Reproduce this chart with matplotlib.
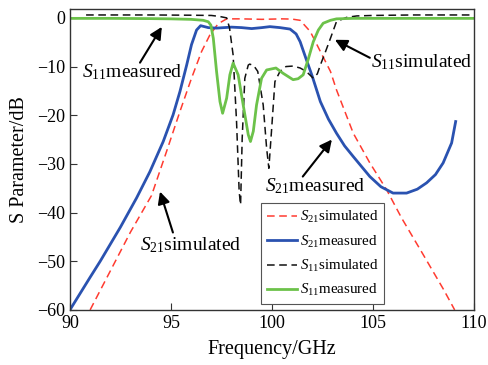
import numpy as np
import matplotlib
matplotlib.use("Agg")
import matplotlib.pyplot as plt

# S-parameter curves (frequency in GHz, level in dB)
s21_sim_f = [91.0, 92.0, 93.0, 94.04, 94.78, 95.45, 96.02, 96.52, 96.93, 97.34, 97.76,
             98.5, 99.5, 100.5, 101.0, 101.4, 101.9, 102.4, 102.9, 103.2, 104.03,
             104.85, 105.68, 106.42, 107.5, 108.5, 109.05]
s21_sim_db = [-60, -52, -44, -36.5, -27.5, -19.2, -12.4, -6.9, -3.5, -1.2, -0.2,
              -0.2, -0.3, -0.2, -0.25, -0.5, -2.8, -6.9, -11, -14.8, -23.7,
              -29.8, -35.3, -41.1, -48.7, -55.8, -60]

s21_meas_f = [90.0, 91.0, 91.5, 92.5, 93.3, 93.96, 94.62, 95.11, 95.45, 95.78, 96.02,
              96.27, 96.47, 96.85, 97.26, 98.0, 98.5, 99.0, 99.5, 99.9, 100.4, 100.9,
              101.2, 101.4, 101.7, 102.0, 102.4, 102.8, 103.2, 103.6, 104.03, 104.85,
              105.4, 106.0, 106.67, 107.2, 107.66, 108.1, 108.48, 108.9, 109.1]
s21_meas_db = [-60, -53.3, -50, -43, -37, -31.6, -25.4, -19.9, -15.1, -9.7, -5.5,
               -2.5, -1.6, -2.0, -2.1, -1.9, -2.0, -2.2, -2.0, -1.8, -2.0, -2.3,
               -3.3, -4.9, -8.5, -12, -17.2, -20.8, -23.7, -26.3, -28.5, -32.6,
               -34.7, -36.0, -36.0, -35.2, -33.9, -32.2, -29.8, -25.7, -21.3]

s11_sim_f = [90.8, 92.0, 94.0, 96.0, 97.0, 97.4, 97.76, 97.9, 98.08, 98.25, 98.38, 98.45,
             98.53, 98.66, 98.83, 98.9, 99.1, 99.3, 99.57, 99.74, 99.85, 99.98, 100.15,
             100.4, 100.7, 101.05, 101.4, 101.7, 102.05, 102.25, 102.4, 102.65, 102.9,
             103.2, 103.7, 104.2, 105.0, 107.0, 110.0]
s11_sim_db = [0.6, 0.6, 0.6, 0.55, 0.5, 0.3, 0.0, -2.0, -7.6, -21.3, -35.7, -38.4,
              -24.7, -12.4, -9.7, -9.5, -9.8, -11, -17.9, -26.8, -30.9, -23.3, -13.1,
              -11, -10, -9.9, -10.3, -11, -12.4, -11.5, -9.7, -7, -4.2,
              -0.75, 0.1, 0.4, 0.5, 0.6, 0.6]

s11_meas_f = [90.0, 92.0, 94.0, 95.0, 96.0, 96.6, 96.85, 96.98, 97.1, 97.26, 97.43, 97.56,
              97.76, 97.92, 98.08, 98.33, 98.58, 98.83, 98.94, 99.08, 99.24, 99.49, 99.74,
              100.2, 100.56, 101.05, 101.3, 101.55, 101.8, 102.05, 102.3, 102.54, 102.9,
              103.2, 104.0, 110.0]
s11_meas_db = [-0.1, -0.1, -0.15, -0.2, -0.3, -0.5, -0.8, -1.5, -4.2, -11, -17.2, -19.6,
               -16.5, -11.7, -9.3, -11.7, -17.9, -24, -25.4, -23.3, -17.9, -12.4, -10.7,
               -10.3, -11.4, -12.7, -12.5, -11.7, -8.5, -4.9, -2.5, -1.1, -0.5,
               -0.2, -0.1, -0.1]

plt.rcParams['font.family'] = ['Liberation Serif', 'DejaVu Serif']
plt.rcParams['mathtext.fontset'] = 'custom'
plt.rcParams['mathtext.rm'] = 'Liberation Serif'
plt.rcParams['mathtext.it'] = 'Liberation Serif:italic'

fig = plt.figure(figsize=(4.89, 3.65), dpi=100)
ax = fig.add_axes([0.143, 0.151, 0.826, 0.824])

ax.plot(s21_sim_f, s21_sim_db, color='#ff3b30', lw=1.1, dashes=(5, 3),
        label=r'$S_{21}$simulated')
ax.plot(s21_meas_f, s21_meas_db, color='#2a52b0', lw=2.0,
        label=r'$S_{21}$measured')
ax.plot(s11_sim_f, s11_sim_db, color='#111111', lw=1.1, dashes=(5, 3),
        label=r'$S_{11}$simulated')
ax.plot(s11_meas_f, s11_meas_db, color='#6cc24a', lw=2.0,
        label=r'$S_{11}$measured')

ax.set_xlim(90, 110)
ax.set_ylim(-60, 1.8)
ax.set_xticks([90, 95, 100, 105, 110])
ax.set_yticks([0, -10, -20, -30, -40, -50, -60])
ax.tick_params(direction='in', length=5, labelsize=13, color='#333333')
for s in ax.spines.values():
    s.set_color('#333333')
    s.set_linewidth(1.0)
ax.set_xlabel("Frequency/GHz", fontsize=14.5, labelpad=6)
ax.set_ylabel("S Parameter/dB", fontsize=14.5, labelpad=6)

arrow = dict(arrowstyle='-|>', color='k', lw=1.5, mutation_scale=18,
             shrinkA=0, shrinkB=0)
ax.annotate('', xy=(94.55, -1.85), xytext=(93.47, -9.2), arrowprops=arrow)
ax.annotate('', xy=(103.12, -4.5), xytext=(104.85, -8.2), arrowprops=arrow)
ax.annotate('', xy=(102.97, -25.0), xytext=(101.53, -32.6), arrowprops=arrow)
ax.annotate('', xy=(94.46, -35.7), xytext=(95.1, -44.1), arrowprops=arrow)

ax.text(90.59, -11.1, r'$S_{11}$measured', fontsize=14, va='center', ha='left')
ax.text(104.9, -9.0, r'$S_{11}$simulated', fontsize=14, va='center', ha='left')
ax.text(99.65, -34.5, r'$S_{21}$measured', fontsize=14, va='center', ha='left')
ax.text(93.47, -46.8, r'$S_{21}$simulated', fontsize=14, va='center', ha='left')

leg = ax.legend(loc='upper left', bbox_to_anchor=(0.473, 0.355), fontsize=10.8,
                frameon=True, fancybox=False, framealpha=1, edgecolor='#555555',
                handlelength=2.0, handletextpad=0.2, labelspacing=0.55,
                borderpad=0.4, borderaxespad=0)
leg.get_frame().set_linewidth(0.8)

plt.savefig("out.png", dpi=100)
